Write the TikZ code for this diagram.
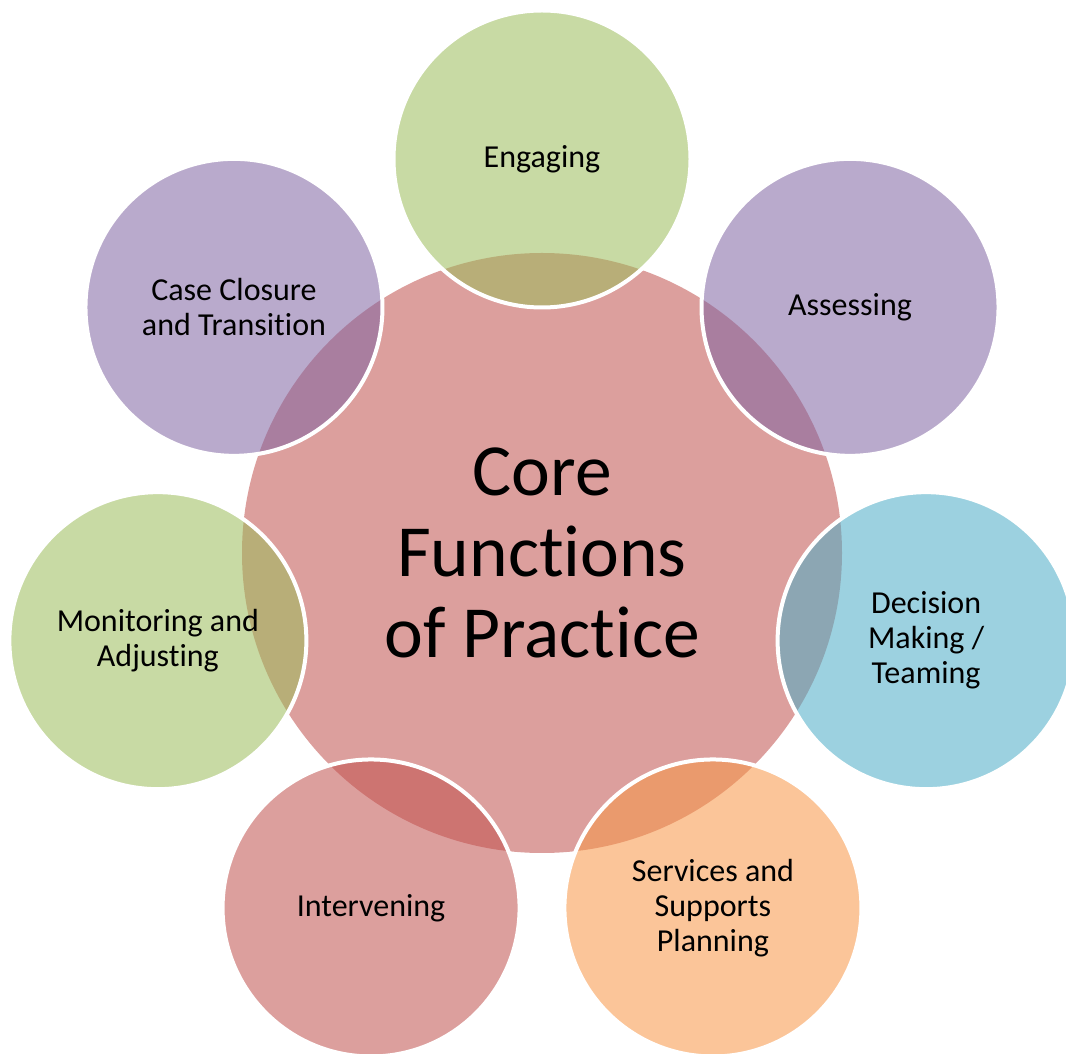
\documentclass[tikz,border=0pt]{standalone}
\usepackage{fontspec}
\setmainfont{Carlito}[Ligatures=NoCommon]
\usetikzlibrary{calc}
\definecolor{cred}{HTML}{C0504D}
\definecolor{cgreen}{HTML}{9BBB59}
\definecolor{cpurple}{HTML}{8064A2}
\definecolor{caqua}{HTML}{4BACC6}
\definecolor{corange}{HTML}{F79646}
\tikzset{
  core/.style={circle, inner sep=0pt, minimum size=600pt, fill=cred, fill opacity=0.55, text opacity=1,
    align=center, font=\fontsize{73.5}{81}\selectfont},
  petal/.style={circle, inner sep=0pt, minimum size=297pt, fill=#1, fill opacity=0.55, text opacity=1,
    draw=white, draw opacity=1, line width=4pt, align=center, font=\fontsize{32}{35}\selectfont},
}
\begin{document}
\begin{tikzpicture}[x=1pt,y=1pt]
\useasboundingbox (0,0) rectangle (1066,1053);
\coordinate (c) at (542,500);
\node[core] (core) at (c) {Core\\Functions\\of Practice};
\node[petal=cgreen]  (engaging)   at ($(c)+(90:394)$) {Engaging};
\node[petal=cpurple] (assessing)  at ($(c)+(38.571:394)$) {Assessing};
\node[petal=caqua]   (decision)   at ($(c)+(-12.857:394)$) {Decision\\Making /\\Teaming};
\node[petal=corange] (services)   at ($(c)+(-64.286:394)$) {Services and\\Supports\\Planning};
\node[petal=cred]    (intervening) at ($(c)+(-115.714:394)$) {Intervening};
\node[petal=cgreen]  (monitoring) at ($(c)+(-167.143:394)$) {Monitoring and\\Adjusting};
\node[petal=cpurple] (closure)    at ($(c)+(141.429:394)$) {Case Closure\\and Transition};
\end{tikzpicture}
\end{document}
